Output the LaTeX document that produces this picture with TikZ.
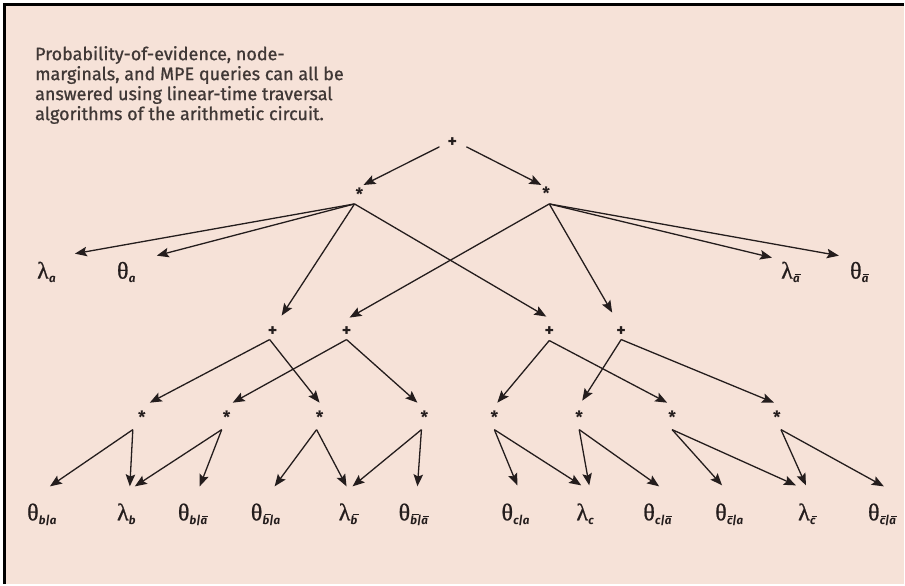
\documentclass[tikz,border=0pt]{standalone}
\usepackage{fontspec}
\setmainfont{Fira Sans}
\newfontfamily\capfont{Fira Sans}[FakeBold=0.9]
\newfontfamily\grkfont{Liberation Serif}[FakeBold=0.8]
\newfontfamily\subfont{Fira Sans}
\usetikzlibrary{arrows.meta,calc}

\definecolor{paper}{RGB}{246,226,216}
\definecolor{ink}{RGB}{36,29,29}
\definecolor{txt}{RGB}{64,56,54}

% bar over a subscript letter, shifted right for the slant
\newcommand\barx[1]{\leavevmode\setbox0\hbox{#1}%
  \rlap{\raisebox{\dimexpr\ht0+0.7pt\relax}{\kern\dimexpr0.18\ht0+0.3pt\relax\rule{\dimexpr\wd0-0.4pt\relax}{1pt}}}\box0}
% Greek symbol with a sans bold italic subscript
\newcommand\lbl[2]{{\grkfont\fontsize{24}{24}\selectfont #1}\kern0.3pt\raisebox{-3.8pt}{\subfont\bfseries\itshape\fontsize{11.5}{11.5}\selectfont #2}}
% arrow from a vertex to an offset point near a target node
\newcommand\link[3]{\draw[arr] (#1) -- ($(#2)+(#3)$);}

\begin{document}
\begin{tikzpicture}[x=1pt,y=-1pt,
  arr/.style={draw=ink,line width=1.3pt,-{Stealth[length=12pt,width=9.5pt,inset=2.2pt]}},
  plusnode/.style={inner sep=0pt,text=ink,font=\fontsize{18}{18}\selectfont\bfseries},
  starnode/.style={inner sep=0pt,text=ink,font=\fontsize{17}{17}\selectfont\bfseries,yshift=-3.2pt},
  leaf/.style={inner sep=0pt,anchor=base west,text=ink}]

% page, frame
\fill[white] (0,0) rectangle (905,585);
\fill[paper] (4.5,4.5) rectangle (905,585);
\draw[black,line width=2.4pt,line join=miter] (4.5,585) -- (4.5,4.5) -- (905,4.5);
\useasboundingbox (0,0) rectangle (905,585);

% caption
\node[anchor=north west,inner sep=0pt,align=left,text=txt,
  font=\capfont\fontsize{18}{20}\selectfont] (caption) at (35,46)
  {Probability-of-evidence, node-\\
   marginals, and MPE queries can all be\\
   answered using linear-time traversal\\
   algorithms of the arithmetic circuit.};

% operator nodes
\node[plusnode] (root) at (453,143) {+};
\node[starnode] (m1) at (360,191) {*};
\node[starnode] (m2) at (547,190) {*};
\node[plusnode] (p1) at (273,332) {+};
\node[plusnode] (p2) at (347,332) {+};
\node[plusnode] (p3) at (550,332) {+};
\node[plusnode] (p4) at (622,332) {+};
\node[starnode] (s1) at (142,415) {*};
\node[starnode] (s2) at (227,415) {*};
\node[starnode] (s3) at (320,415) {*};
\node[starnode] (s4) at (425,415) {*};
\node[starnode] (s5) at (495,415) {*};
\node[starnode] (s6) at (580,415) {*};
\node[starnode] (s7) at (673,415) {*};
\node[starnode] (s8) at (778,415) {*};

% edge origins below each operator
\coordinate (rootl) at ($(root)+(-13,4)$);
\coordinate (rootr) at ($(root)+(14,4)$);
\coordinate (m1v) at ($(m1)+(-5,10)$);
\coordinate (m2v) at ($(m2)+(3,11)$);
\coordinate (p1v) at ($(p1)+(-3,8)$);
\coordinate (p2v) at ($(p2)+(0,8)$);
\coordinate (p3v) at ($(p3)+(0,9)$);
\coordinate (p4v) at ($(p4)+(0,8)$);
\coordinate (s1v) at ($(s1)+(-9,12)$);
\coordinate (s2v) at ($(s2)+(-5,12)$);
\coordinate (s3v) at ($(s3)+(-3,12)$);
\coordinate (s4v) at ($(s4)+(-3,12)$);
\coordinate (s5v) at ($(s5)+(0,12)$);
\coordinate (s6v) at ($(s6)+(0,12)$);
\coordinate (s7v) at ($(s7)+(0,12)$);
\coordinate (s8v) at ($(s8)+(4,12)$);

% indicator and parameter leaves
\node[leaf] (la) at (37,279) {\lbl{λ}{a}};
\node[leaf] (ta) at (117,279) {\lbl{θ}{a}};
\node[leaf] (lA) at (782,279) {\lbl{λ}{\barx{a}}};
\node[leaf] (tA) at (851,279) {\lbl{θ}{\barx{a}}};

\node[leaf] (tba) at (27,521) {\lbl{θ}{b|a}};
\node[leaf] (lb)  at (117,521) {\lbl{λ}{b}};
\node[leaf] (tbA) at (178,521) {\lbl{θ}{b|\barx{a}}};
\node[leaf] (tBa) at (251,521) {\lbl{θ}{\barx{b}|a}};
\node[leaf] (lB)  at (339,521) {\lbl{λ}{\barx{b}}};
\node[leaf] (tBA) at (399,521) {\lbl{θ}{\barx{b}|\barx{a}}};
\node[leaf] (tca) at (502,521) {\lbl{θ}{c|a}};
\node[leaf] (lc)  at (577,521) {\lbl{λ}{c}};
\node[leaf] (tcA) at (644,521) {\lbl{θ}{c|\barx{a}}};
\node[leaf] (tCa) at (716,521) {\lbl{θ}{\barx{c}|a}};
\node[leaf] (lC)  at (799,521) {\lbl{λ}{\barx{c}}};
\node[leaf] (tCA) at (869,521) {\lbl{θ}{\barx{c}|\barx{a}}};

% root
\link{rootl}{m1}{4,-9}
\link{rootr}{m2}{-5,-8}
% first product
\link{m1v}{la.base west}{38,-25}
\link{m1v}{ta.base west}{40,-23}
\link{m1v}{p1}{9,-16}
\link{m1v}{p3}{-3,-15}
% second product
\link{m2v}{p2}{3,-14}
\link{m2v}{p4}{-9,-19}
\link{m2v}{lA.base west}{-9,-21}
\link{m2v}{tA.base west}{-11,-23}
% sums
\link{p1v}{s1}{8,-15}
\link{p1v}{s3}{0,-15}
\link{p2v}{s2}{6,-15}
\link{p2v}{s4}{-7,-15}
\link{p3v}{s5}{3,-15}
\link{p3v}{s7}{-5,-15}
\link{p4v}{s6}{3,-17}
\link{p4v}{s8}{-3,-15}
% lower products
\link{s1v}{tba.base west}{23,-34}
\link{s1v}{lb.base west}{13,-34}
\link{s2v}{lb.base west}{18,-34}
\link{s2v}{tbA.base west}{22,-34}
\link{s3v}{tBa.base west}{24,-34}
\link{s3v}{lB.base west}{8,-34}
\link{s4v}{lB.base west}{14,-34}
\link{s4v}{tBA.base west}{19,-34}
\link{s5v}{tca.base west}{16,-35}
\link{s5v}{lc.base west}{5,-35}
\link{s6v}{lc.base west}{13,-35}
\link{s6v}{tcA.base west}{16,-34}
\link{s7v}{tCa.base west}{7,-35}
\link{s7v}{lC.base west}{-2,-35}
\link{s8v}{lC.base west}{8,-35}
\link{s8v}{tCA.base west}{16,-34}
\end{tikzpicture}
\end{document}
